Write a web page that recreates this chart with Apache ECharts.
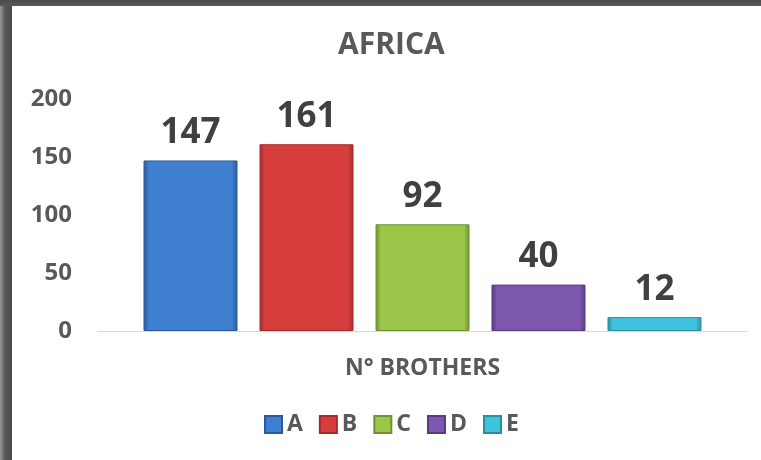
<!DOCTYPE html>
<html>
<head>
<meta charset="utf-8">
<script src="https://cdn.jsdelivr.net/npm/echarts@6/dist/echarts.min.js"></script>
<style>
  html, body { margin: 0; padding: 0; background: #fff; }
  #wrap { position: relative; width: 761px; height: 460px; overflow: hidden; }
  #chart { position: absolute; left: 0; top: 0; width: 761px; height: 460px; }
  .frame-left { position: absolute; left: 0; top: 0; width: 12px; height: 460px;
    background: linear-gradient(to right, #9a9a9a, #5a5a5a 40%, #4a4a4a); }
  .frame-top { position: absolute; left: 0; top: 0; width: 761px; height: 6px;
    background: linear-gradient(to bottom, #4a4a4a, #5a5a5a); }
</style>
</head>
<body>
<div id="wrap">
  <div id="chart"></div>
  <div class="frame-left"></div>
  <div class="frame-top"></div>
</div>
<script>
const categories = ['N° BROTHERS'];
const seriesNames = ['A', 'B', 'C', 'D', 'E'];
const seriesValues = [147, 161, 92, 40, 12];
const yTicks = [0, 50, 100, 150, 200];

// base colour plus darker edge for the bevelled look
const baseColors = ['#3f7fcf', '#d63e3e', '#9cc64a', '#7d56ad', '#3fc3dc'];
const edgeColors = ['#2a5a9a', '#a42a2a', '#6f9230', '#583b80', '#2a8ea3'];

const chart = echarts.init(document.getElementById('chart'));
const textColor = '#595959';
const font = '"Open Sans", "DejaVu Sans", sans-serif';

const series = seriesNames.map((name, i) => ({
  name: name,
  type: 'bar',
  data: [seriesValues[i]],
  barWidth: 94,
  barGap: '23.4%',
  itemStyle: {
    color: new echarts.graphic.LinearGradient(0, 0, 1, 0, [
      { offset: 0, color: edgeColors[i] },
      { offset: 0.06, color: baseColors[i] },
      { offset: 0.94, color: baseColors[i] },
      { offset: 1, color: edgeColors[i] }
    ]),
    borderColor: edgeColors[i],
    borderWidth: 1
  },
  label: {
    show: true,
    position: 'top',
    distance: 10,
    fontFamily: font,
    fontSize: 35,
    fontWeight: 'bold',
    color: '#404040'
  }
}));

chart.setOption({
  backgroundColor: '#fff',
  animation: false,
  title: {
    text: 'AFRICA',
    left: 333,
    top: 25,
    textStyle: { fontFamily: font, fontSize: 30, fontWeight: 'bold', color: textColor }
  },
  grid: { left: 98, right: 14, top: 99, bottom: 129 },
  legend: {
    data: seriesNames,
    left: 259,
    top: 408,
    icon: 'rect',
    itemWidth: 17,
    itemHeight: 17,
    itemGap: 16,
    textStyle: { fontFamily: font, fontSize: 23, fontWeight: 'bold', color: textColor }
  },
  xAxis: {
    type: 'category',
    data: categories,
    axisLine: { lineStyle: { color: '#d9d9d9', width: 1 } },
    axisTick: { show: false },
    axisLabel: {
      margin: 26,
      fontFamily: font,
      fontSize: 23,
      fontWeight: 'bold',
      color: textColor
    }
  },
  yAxis: {
    type: 'value',
    min: yTicks[0],
    max: yTicks[yTicks.length - 1],
    interval: yTicks[1] - yTicks[0],
    axisLine: { show: false },
    axisTick: { show: false },
    splitLine: { show: false },
    axisLabel: {
      margin: 26,
      fontFamily: font,
      fontSize: 24,
      fontWeight: 'bold',
      color: textColor
    }
  },
  series: series
});
</script>
</body>
</html>
